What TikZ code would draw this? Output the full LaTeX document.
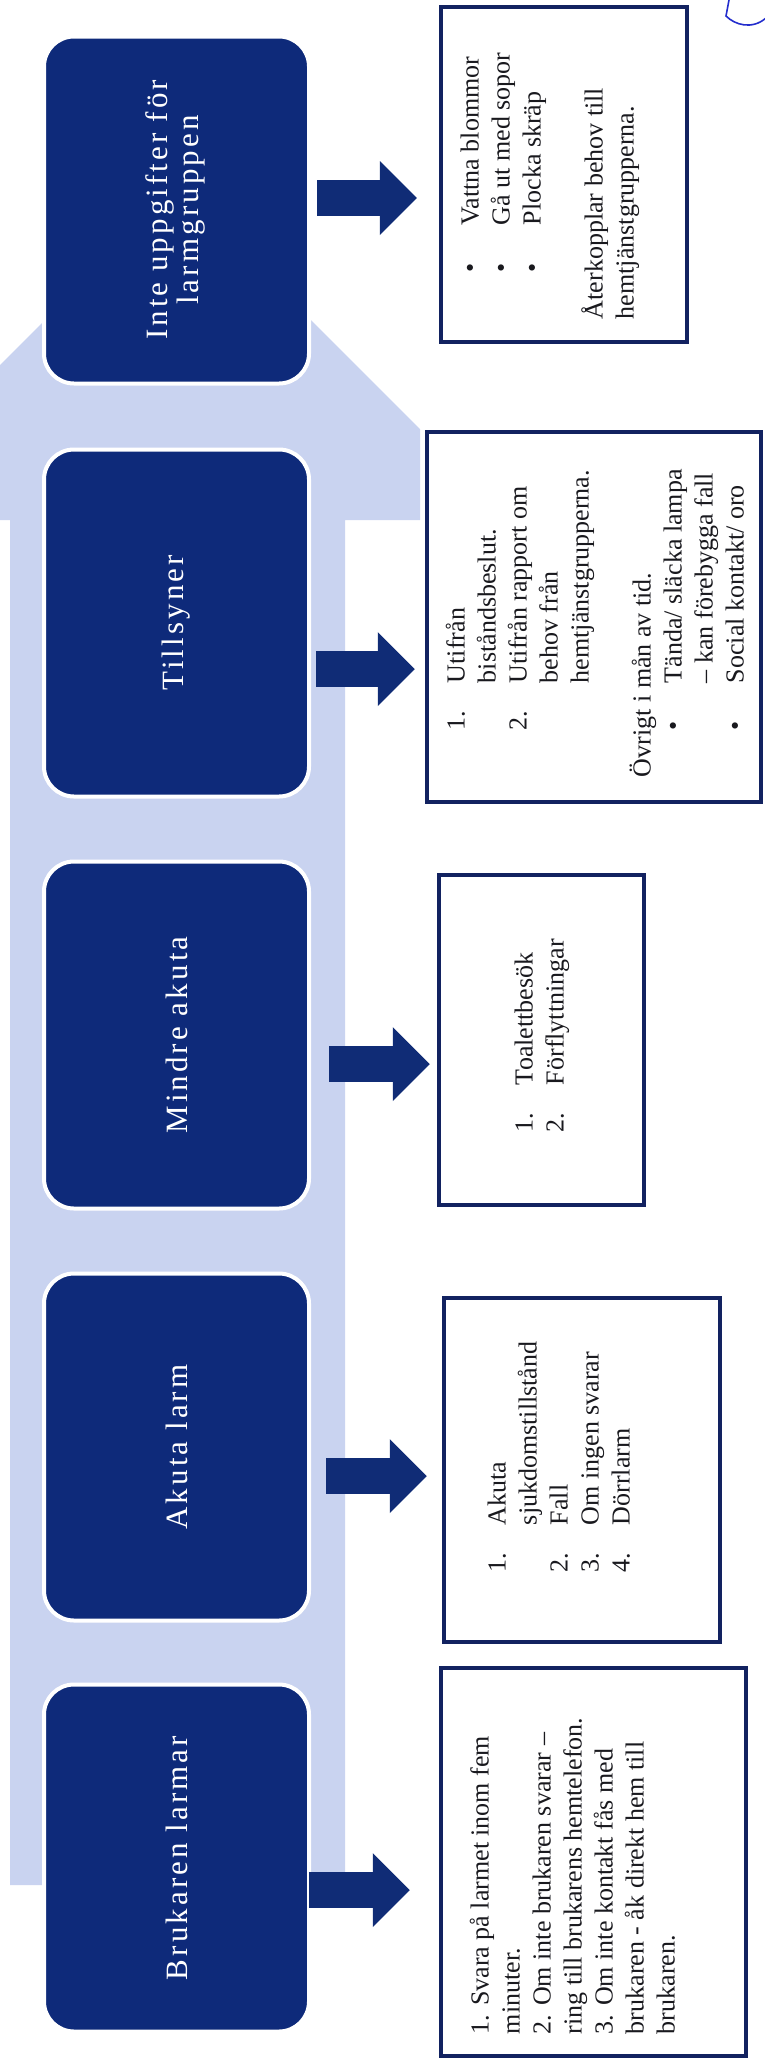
\documentclass[tikz,border=0pt]{standalone}
\usepackage{fontspec}
\usepackage{graphicx}
\setmainfont{Liberation Serif}
\newfontfamily\lblfont[LetterSpace=10]{Liberation Serif}
\usetikzlibrary{calc,arrows.meta}
\definecolor{navy}{RGB}{14,42,122}
\definecolor{arrnavy}{RGB}{16,44,118}
\definecolor{band}{RGB}{201,211,240}
\definecolor{boxline}{RGB}{18,34,96}
\definecolor{ink}{RGB}{25,25,30}
\definecolor{pen}{RGB}{35,45,205}
\newcommand\numl[2]{\hspace*{47pt}\makebox[47pt][l]{#1}#2}
\newcommand\contl[1]{\hspace*{94pt}#1}
\begin{document}
\begin{tikzpicture}[x=1pt,y=-1pt,
  catbox/.style={fill=navy, draw=white, line width=4pt, rounded corners=30pt,
    minimum width=265pt, minimum height=347pt, inner sep=0pt, text=white,
    font=\lblfont\fontsize{31}{31}\selectfont},
  txtbox/.style={draw=boxline, line width=4.5pt, fill=white, inner sep=0pt},
  txt/.style={rotate=90, anchor=north west, inner sep=0pt, align=left,
    text=ink, font=\fontsize{26}{31}\selectfont},
  blk/.style={draw=arrnavy, line width=36pt,
    -{Triangle[length=37pt,width=74pt,line width=0pt]}}]
\useasboundingbox (0,0) rectangle (764,2061);
\begin{scope}
\clip (0,0) rectangle (764,2061);
\fill[band] (178,187) -- (420,429) -- (420,520) -- (345,520) -- (345,1885)
  -- (10,1885) -- (10,520) -- (-64,520) -- (-64,429) -- cycle;
\end{scope}

% category boxes
\node[catbox] (inte) at (176.5,210) {\rotatebox{90}{\begin{tabular}{@{}c@{}}Inte uppgifter för\\larmgruppen\end{tabular}}};
\node[catbox] (tills) at (176.5,623) {\rotatebox{90}{Tillsyner}};
\node[catbox] (mindre) at (176.5,1035) {\rotatebox{90}{Mindre akuta}};
\node[catbox] (akuta) at (176.5,1447) {\rotatebox{90}{Akuta larm}};
\node[catbox] (bruk) at (176.5,1858) {\rotatebox{90}{Brukaren larmar}};

% text boxes
\node[txtbox, minimum width=246pt, minimum height=335pt] (intet) at (564,174.5) {};
\node[txtbox, minimum width=334pt, minimum height=370pt] (tillst) at (594,617) {};
\node[txtbox, minimum width=205pt, minimum height=330pt] (mindret) at (541.5,1040) {};
\node[txtbox, minimum width=276pt, minimum height=344pt] (akutat) at (582,1470) {};
\node[txtbox, minimum width=305pt, minimum height=388pt] (brukt) at (593.5,1862) {};

\node[txt] (intetx) at ($(intet.south west)+(18,-25)$) {\strut\numl{•}{Vattna blommor}\\
\numl{•}{Gå ut med sopor}\\
\numl{•}{Plocka skräp}\\
~\\
Återkopplar behov till\\
hemtjänstgrupperna.};

\node[txt] (tillstx) at ($(tillst.south west)+(18,-27)$) {\strut\numl{1.}{Utifrån}\\
\contl{biståndsbeslut.}\\
\numl{2.}{Utifrån rapport om}\\
\contl{behov från}\\
\contl{hemtjänstgrupperna.}\\
~\\
Övrigt i mån av tid.\\
\numl{•}{Tända/ släcka lampa}\\
\contl{– kan förebygga fall}\\
\numl{•}{Social kontakt/ oro}};

\node[txt] (mindretx) at ($(mindret.south west)+(74,-28)$) {\strut\numl{1.}{Toalettbesök}\\
\numl{2.}{Förflyttningar}};

\node[txt] (akutatx) at ($(akutat.south west)+(42,-25)$) {\strut\numl{1.}{Akuta}\\
\contl{sjukdomstillstånd}\\
\numl{2.}{Fall}\\
\numl{3.}{Om ingen svarar}\\
\numl{4.}{Dörrlarm}};

\node[txt] (bruktx) at ($(brukt.south west)+(28,-24)$) {\strut 1. Svara på larmet inom fem\\
minuter.\\
2. Om inte brukaren svarar –\\
ring till brukarens hemtelefon.\\
3. Om inte kontakt fås med\\
brukaren - åk direkt hem till\\
brukaren.};

% block arrows
\draw[blk] ($(inte.east)+(6,-12)$) -- ($(intet.west)+(-22,23.5)$);
\draw[blk] ($(tills.east)+(5,46)$) -- ($(tillst.west)+(-10,52)$);
\draw[blk] ($(mindre.east)+(18,29)$) -- ($(mindret.west)+(-7,24)$);
\draw[blk] ($(akuta.east)+(15,29)$) -- ($(akutat.west)+(-15,6)$);
\draw[blk] ($(bruk.east)+(-2,32)$) -- ($(brukt.west)+(-29,28)$);

% handwritten mark
\draw[pen, line width=1.6pt, line cap=round] (729,0) -- (726,16) .. controls (735,25) and (752,30) .. (766,18);
\end{tikzpicture}
\end{document}
